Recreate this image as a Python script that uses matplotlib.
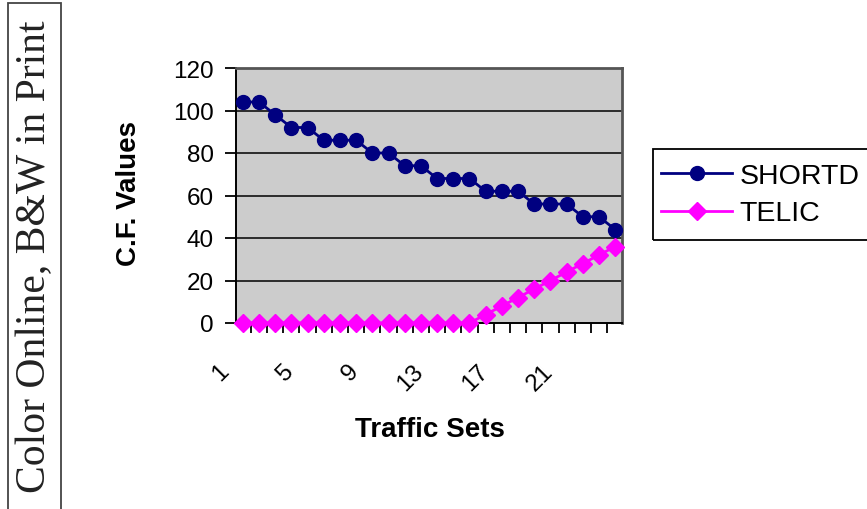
import numpy as np
import matplotlib
matplotlib.use("Agg")
import matplotlib.pyplot as plt
from matplotlib.patches import Rectangle
from matplotlib.transforms import ScaledTranslation
from matplotlib.ticker import FixedLocator

plt.rcParams['font.family'] = ['Liberation Sans', 'DejaVu Sans']

# C.F. values per traffic set
traffic_sets = list(range(1, 25))
shortd = [104, 104, 98, 92, 92, 86, 86, 86, 80, 80, 74, 74,
          68, 68, 68, 62, 62, 62, 56, 56, 56, 50, 50, 44]
telic = [0, 0, 0, 0, 0, 0, 0, 0, 0, 0, 0, 0, 0, 0, 0,
         4, 8, 12, 16, 20, 24, 28, 32, 36]
tick_labels = ['1', '5', '9', '13', '17', '21']
y_ticks = [0, 20, 40, 60, 80, 100, 120]

W, H = 867, 510
fig = plt.figure(figsize=(W / 100, H / 100), dpi=100)
fig.patch.set_facecolor('white')

ax = fig.add_axes([236 / W, 1 - 324 / H, (622 - 236) / W, (324 - 69) / H])
ax.set_facecolor('#cccccc')

x = np.arange(len(traffic_sets))
ax.plot(x, shortd, color='#000080', lw=2, marker='o', ms=10,
        mec='#000080', mfc='#000080', label='SHORTD', zorder=4, clip_on=False)
ax.plot(x, telic, color='#ff00ff', lw=2, marker='D', ms=9.5,
        mec='#ff00ff', mfc='#ff00ff', label='TELIC', zorder=4, clip_on=False)

ax.set_xlim(-0.42, len(x) - 1 + 0.42)
ax.set_ylim(0, 120)

# horizontal gridlines
for yv in y_ticks[1:-1]:
    ax.axhline(yv, color='black', lw=1.1, zorder=1)

ax.set_yticks(y_ticks)
ax.tick_params(axis='y', direction='out', length=8, width=1.3, pad=8,
               labelsize=17.5, colors='black')

# category labels every 4th set, tick marks between categories
label_pos = [traffic_sets.index(int(t)) for t in tick_labels]
ax.set_xticks(label_pos)
ax.set_xticklabels(tick_labels, rotation=45, ha='right', va='center',
                   rotation_mode='anchor', fontsize=17.5)
ax.tick_params(axis='x', which='major', length=0, pad=32)
ax.xaxis.set_minor_locator(FixedLocator(np.arange(0.5, len(x) - 1, 1.0)))
ax.tick_params(axis='x', which='minor', direction='out', length=7, width=1.3)
offset = ScaledTranslation(-17 / 100, 0, fig.dpi_scale_trans)
for lab in ax.get_xticklabels():
    lab.set_transform(lab.get_transform() + offset)

for side in ('left', 'bottom'):
    ax.spines[side].set_color('black')
    ax.spines[side].set_linewidth(1.4)
for side in ('top', 'right'):
    ax.spines[side].set_color('#555555')
    ax.spines[side].set_linewidth(2)

fig.text(129 / W, 1 - 193 / H, 'C.F. Values', rotation=90, ha='center',
         va='center', fontsize=20, fontweight='bold')
fig.text(430 / W, 1 - 430 / H, 'Traffic Sets', ha='center', va='center',
         fontsize=20, fontweight='bold')

# legend with its frame drawn separately
fig.patches.append(Rectangle((653 / W, 1 - 241 / H), 240 / W, 91 / H,
                             transform=fig.transFigure, fill=False,
                             edgecolor='black', lw=1.3))
fig.legend(loc='center left', bbox_to_anchor=(661 / W, 1 - 195.5 / H),
           bbox_transform=fig.transFigure, frameon=False, borderpad=0,
           borderaxespad=0, handlelength=2.5, handletextpad=0.25,
           labelspacing=0.42, fontsize=20.5)

# side caption box
fig.patches.append(Rectangle((7.5 / W, -0.05), 53.5 / W, 1.05 - 4 / H,
                             transform=fig.transFigure, fill=False,
                             edgecolor='#444444', lw=1.3))
fig.text(35 / W, 1 - 257 / H, 'Color Online, B&W in Print', rotation=90,
         ha='center', va='center', fontsize=30, color='#222222',
         family=['Liberation Serif', 'DejaVu Serif'])

fig.savefig('out.png', dpi=100)
